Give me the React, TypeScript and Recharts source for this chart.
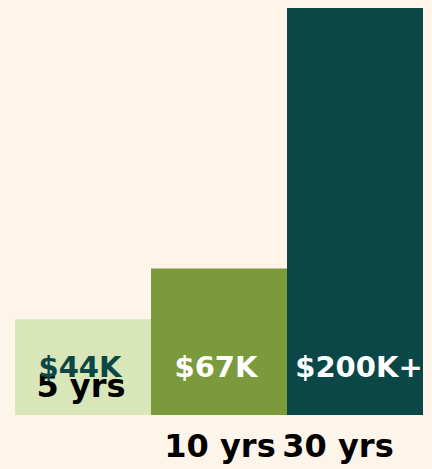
import { Bar, BarChart, Cell, LabelList, XAxis, YAxis } from "recharts";

const periods = ["5 yrs", "10 yrs", "30 yrs"];
const barHeights = [47, 72, 200];
const valueLabels = ["$44K", "$67K", "$200K+"];
const barColors = ["#d9e6b8", "#7a9a3c", "#0c4748"];
const labelColors = ["#0c4748", "#ffffff", "#ffffff"];

const data = periods.map((period, i) => ({
  period,
  value: barHeights[i],
  label: valueLabels[i],
}));

const FONT = "'DejaVu Sans', sans-serif";

// the original puts the first period inside its bar, the others below
function PeriodTick(props: any) {
  const { x, y, payload, index } = props;
  const dx = index === 2 ? -17 : index === 1 ? 1 : -2;
  const dy = index === 0 ? -26 : 34;
  return (
    <text
      x={x + dx}
      y={y + dy}
      textAnchor="middle"
      fontFamily={FONT}
      fontWeight={700}
      fontSize={32}
      fill="#000000"
    >
      {payload.value}
    </text>
  );
}

function ValueLabel(props: any) {
  const { x, y, width, height, index } = props;
  const dx = index === 2 ? 4 : -3;
  return (
    <text
      x={x + width / 2 + dx}
      y={y + height - 38}
      textAnchor="middle"
      fontFamily={FONT}
      fontWeight={700}
      fontSize={29}
      fill={labelColors[index]}
    >
      {valueLabels[index]}
    </text>
  );
}

export default function App() {
  return (
    <div
      style={{
        position: "fixed",
        inset: 0,
        background: "#fdf5ea",
      }}
    >
      <BarChart
        width={432}
        height={469}
        data={data}
        margin={{ top: 8, right: 9, bottom: 0, left: 15 }}
        barCategoryGap={0}
      >
        <XAxis
          dataKey="period"
          axisLine={false}
          tickLine={false}
          height={54}
          interval={0}
          tick={<PeriodTick />}
        />
        <YAxis hide domain={[0, 200]} />
        <Bar dataKey="value" isAnimationActive={false}>
          {data.map((d, i) => (
            <Cell key={d.period} fill={barColors[i]} />
          ))}
          <LabelList dataKey="label" content={<ValueLabel />} />
        </Bar>
      </BarChart>
    </div>
  );
}
